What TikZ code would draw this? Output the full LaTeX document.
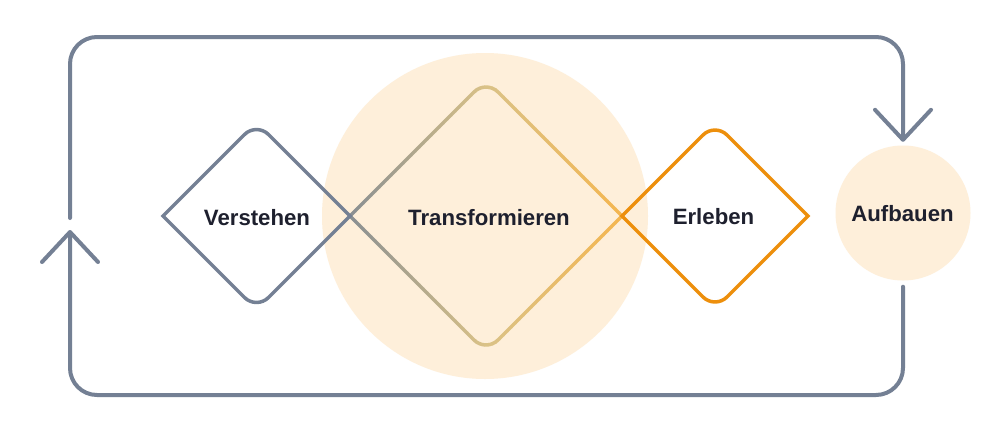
\documentclass[tikz,border=0pt]{standalone}
\usepackage{fontspec}
\setmainfont{Liberation Sans}
\usetikzlibrary{arrows.meta}
\definecolor{loopgrey}{RGB}{116,128,148}
\definecolor{peach}{RGB}{254,239,218}
\definecolor{amber}{RGB}{237,143,12}
\definecolor{ink}{RGB}{30,32,46}
\definecolor{gA}{RGB}{138,143,146}
\definecolor{gB}{RGB}{218,194,135}
\definecolor{gC}{RGB}{244,182,80}
% rounded diamond: centre x, centre y, half diagonal (pixel coords, y down)
\newcommand{\rdiam}[3]{({#1-#3},#2) -- ({#1-12.02},{#2-#3+12.02}) arc[start angle=225,end angle=315,radius=17] -- ({#1+#3},#2) -- ({#1+12.02},{#2+#3-12.02}) arc[start angle=45,end angle=135,radius=17] -- cycle}
\tikzset{
  loopline/.style={draw=loopgrey, line width=4pt, rounded corners=27pt, line cap=round},
  barb/.style={-{Straight Barb[length=30pt,width=56pt,round]}},
  dstroke/.style={line width=3.5pt, line join=miter},
  lblfont/.style={font=\bfseries\fontsize{22.2}{26}\selectfont, text=ink},
  lbl/.style={lblfont, inner sep=0pt, anchor=base},
}
\begin{document}
\begin{tikzpicture}[x=1pt,y=-1pt]
\useasboundingbox (0,0) rectangle (996,432);
\fill[white] (0,0) rectangle (996,432);
% big peach circle behind Transformieren
\fill[peach] (485,216) circle[radius=163];
% Transformieren diamond with horizontal colour gradient
\foreach \i in {0,...,71} {
  \pgfmathsetmacro{\xa}{344+4*\i}
  \pgfmathsetmacro{\xm}{\xa+2}
  \pgfmathtruncatemacro{\lside}{\xm<486}
  \pgfmathtruncatemacro{\p}{max(0,min(100,(\xm-350)/1.36))}
  \pgfmathtruncatemacro{\q}{max(0,min(100,(\xm-486)/1.36))}
  \ifnum\lside=1 \colorlet{strk}{gB!\p!gA}\else\colorlet{strk}{gC!\q!gB}\fi
  \begin{scope}
    \clip (\xa,0) rectangle ({\xa+4.4},432);
    \draw[dstroke, draw=strk] \rdiam{486}{216}{136};
  \end{scope}
}
% Verstehen diamond
\draw[dstroke, draw=loopgrey] \rdiam{256.5}{216}{93.5};
% Erleben diamond
\draw[dstroke, draw=amber] \rdiam{715}{216}{93};
% labels
\node[lbl] (verst) at (257,225) {Verstehen};
\node[lbl] (trans) at (489,225) {Transformieren};
\node[lbl] (erl) at (713.5,224) {Erleben};
\node[circle, fill=peach, minimum size=135pt, inner sep=0pt, lblfont] (aufb) at (903,213) {};
\node[lbl] (aufbtext) at (902.5,221) {Aufbauen};
% loop
\coordinate (tr) at (903,37);
\coordinate (bl) at (70,395);
\coordinate (gaptop) at (70,218);
\coordinate (lefttip) at (70,230);
\draw[loopline, barb] (gaptop) |- (tr) -- ([yshift=3.5pt]aufb.north);
\draw[loopline, barb] ([yshift=-6pt]aufb.south) |- (bl) -- (lefttip);
\end{tikzpicture}
\end{document}
